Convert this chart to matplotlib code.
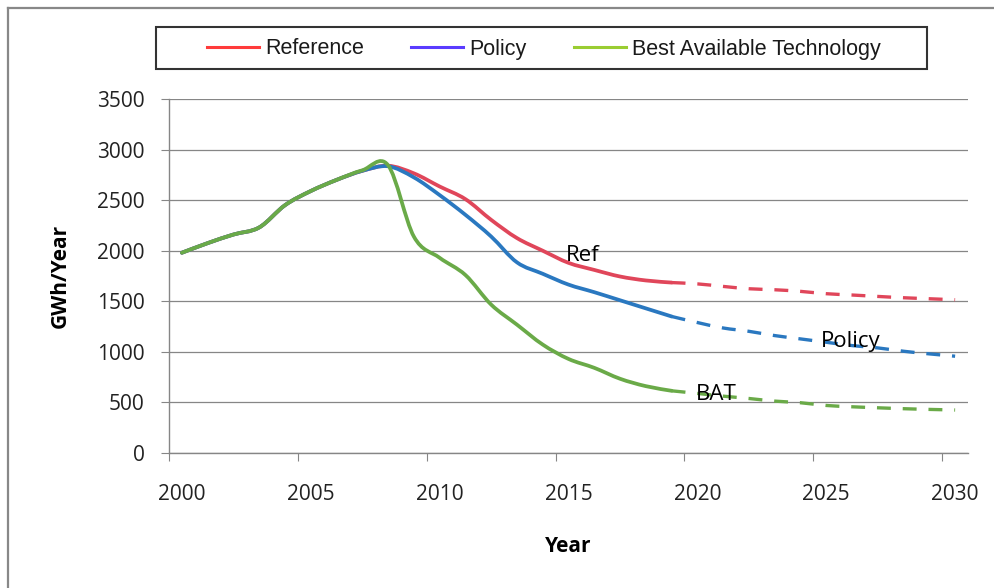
import matplotlib

matplotlib.use("Agg")
import matplotlib.pyplot as plt
from matplotlib.lines import Line2D
from matplotlib.patches import PathPatch, Rectangle
from matplotlib.path import Path

# solid part (history + near term), dashed part (projection)
years_solid = list(range(2000, 2020))
years_dash = list(range(2019, 2031))

ref_solid = [1980, 2075, 2160, 2230, 2450, 2590, 2700, 2790, 2840, 2765,
             2635, 2510, 2305, 2125, 2000, 1880, 1810, 1745, 1706, 1685]
pol_solid = [1980, 2075, 2160, 2230, 2450, 2590, 2700, 2790, 2835, 2725,
             2550, 2355, 2140, 1885, 1772, 1665, 1590, 1510, 1430, 1350]
bat_solid = [1980, 2075, 2160, 2230, 2450, 2590, 2700, 2795, 2845, 2140,
             1930, 1760, 1467, 1269, 1072, 930, 842, 734, 661, 615]

ref_dash = [1685, 1672, 1647, 1624, 1614, 1598, 1575, 1562, 1548, 1535, 1525, 1515]
pol_dash = [1350, 1290, 1236, 1203, 1161, 1128, 1095, 1062, 1039, 1006, 980, 957]
bat_dash = [615, 589, 562, 539, 513, 497, 470, 457, 447, 438, 431, 425]

legend_labels = ["Reference", "Policy", "Best Available Technology"]
legend_colors = ["#ff3b3b", "#5a3cff", "#9acd32"]
line_colors = ["#e0465a", "#2a78c0", "#6aaa48"]


def smooth_path(xs, ys):
    # Excel-style smoothed line: cubic Bezier segments through the data points
    pts = list(zip(xs, ys))
    n = len(pts)
    verts = [pts[0]]
    codes = [Path.MOVETO]
    for i in range(n - 1):
        p0 = pts[max(i - 1, 0)]
        p1 = pts[i]
        p2 = pts[i + 1]
        p3 = pts[min(i + 2, n - 1)]
        c1 = (p1[0] + (p2[0] - p0[0]) / 6, p1[1] + (p2[1] - p0[1]) / 6)
        c2 = (p2[0] - (p3[0] - p1[0]) / 6, p2[1] - (p3[1] - p1[1]) / 6)
        verts += [c1, c2, p2]
        codes += [Path.CURVE4] * 3
    return Path(verts, codes)


W, H = 994, 588
fig = plt.figure(figsize=(W / 100, H / 100), dpi=100)
ax = fig.add_axes([169 / W, 1 - 453 / H, 799 / W, 354 / H])

grid_c = "#868686"
lw_solid = 2.7
lw_dash = 2.4
series = [(ref_solid, ref_dash), (pol_solid, pol_dash), (bat_solid, bat_dash)]
for (sol, dsh), c in zip(series, line_colors):
    ax.add_patch(PathPatch(smooth_path(years_solid, sol), fill=False, edgecolor=c,
                           lw=lw_solid, capstyle="round", joinstyle="round", zorder=3))
    ax.add_patch(PathPatch(smooth_path(years_dash, dsh), fill=False, edgecolor=c,
                           lw=lw_dash, linestyle=(0, (4.17, 3.56)), capstyle="butt",
                           zorder=3))

ax.set_xlim(1999.5, 2030.5)
ax.set_ylim(0, 3500)
ax.set_yticks(range(0, 3501, 500))
ax.set_xticks([1999.5 + 5 * k for k in range(7)])
ax.set_xticklabels([])
ax.set_xticks(range(2000, 2031, 5), minor=True)
ax.set_xticklabels([str(y) for y in range(2000, 2031, 5)], minor=True)

ax.grid(axis="y", color=grid_c, lw=0.9)
ax.set_axisbelow(True)
for s in ["top", "right"]:
    ax.spines[s].set_visible(False)
for s in ["left", "bottom"]:
    ax.spines[s].set_color(grid_c)
    ax.spines[s].set_linewidth(1.0)

ax.tick_params(axis="y", which="major", direction="out", length=5.5, color=grid_c,
               pad=12, labelsize=15, labelcolor="#222222")
ax.tick_params(axis="x", which="major", direction="out", length=6, color=grid_c)
ax.tick_params(axis="x", which="minor", length=0, pad=22, labelsize=15,
               labelcolor="#222222")
for t in ax.get_yticklabels() + ax.get_xticklabels(minor=True):
    t.set_family("Open Sans")

ax.set_xlabel("Year", family="Open Sans", fontsize=15, fontweight="bold", labelpad=23)
ax.set_ylabel("GWh/Year", family="Open Sans", fontsize=15, fontweight="bold", labelpad=19)

txt = dict(family="Open Sans", fontsize=16, color="black", ha="left", va="baseline",
           zorder=4)
ax.text(2014.9, 1900, "Ref", **txt)
ax.text(2024.8, 1045, "Policy", **txt)
ax.text(2019.95, 520, "BAT", **txt)

# legend box and entries
fig.patches.append(Rectangle((156 / W, 1 - 69 / H), (927 - 156) / W, 42 / H,
                             transform=fig.transFigure, fill=False,
                             edgecolor="#333333", lw=1.5))
handles = [Line2D([], [], color=c, lw=2.2) for c in legend_colors]
fig.legend(handles, legend_labels, loc="center left",
           bbox_to_anchor=(207 / W, 1 - 49 / H), ncol=3, frameon=False,
           borderpad=0, borderaxespad=0, handlelength=2.4, handletextpad=0.3,
           columnspacing=2.2, prop=dict(family="Liberation Sans", size=15.5),
           labelcolor="#1a1a1a")

# outer frame (left and top edges)
fig.add_artist(Line2D([8 / W, 8 / W], [0, 1 - 8 / H], transform=fig.transFigure,
                      color="#888888", lw=1.6))
fig.add_artist(Line2D([8 / W, 1], [1 - 8 / H, 1 - 8 / H], transform=fig.transFigure,
                      color="#888888", lw=1.6))

fig.savefig("out.png", dpi=100, facecolor="white")
